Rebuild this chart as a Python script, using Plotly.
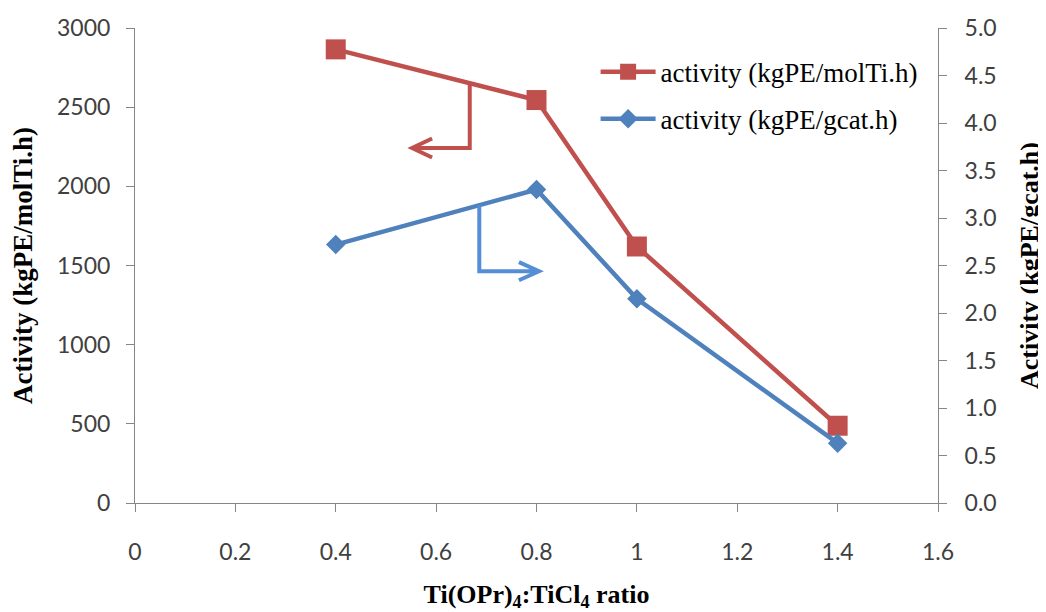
import plotly.graph_objects as go

# ---- data ----
ratio = [0.4, 0.8, 1.0, 1.4]
act_molTi = [2865, 2545, 1620, 488]     # left axis
act_gcat = [2.72, 3.30, 2.15, 0.63]     # right axis
name_molTi = "activity (kgPE/molTi.h)"
name_gcat = "activity (kgPE/gcat.h)"

x_ticks = [0, 0.2, 0.4, 0.6, 0.8, 1.0, 1.2, 1.4, 1.6]
x_ticktext = ["0", "0.2", "0.4", "0.6", "0.8", "1", "1.2", "1.4", "1.6"]

# arrow annotations: x of drop, y of horizontal leg, x of tip
red_arrow = dict(x=0.667, y=2242, tip=0.552, head_dx=0.040, head_dy=60)
blue_arrow = dict(x=0.686, y=2.44, tip=0.805, head_dx=0.040, head_dy=0.095)

RED = "#C0504D"
BLUE = "#4F81BD"
BLUE_ARROW = "#558ED5"
AXIS = "#868686"
TICK = "#404040"
TICKFONT = dict(family="Lato, Open Sans, sans-serif", size=23, color=TICK)
SERIF = "Liberation Serif, Times New Roman, serif"


def interp(xs, ys, x):
    for i in range(len(xs) - 1):
        if xs[i] <= x <= xs[i + 1]:
            t = (x - xs[i]) / (xs[i + 1] - xs[i])
            return ys[i] + t * (ys[i + 1] - ys[i])
    return ys[-1]


fig = go.Figure()
fig.add_trace(go.Scatter(
    x=ratio, y=act_molTi, name=name_molTi, mode="lines+markers",
    line=dict(color=RED, width=4.5),
    marker=dict(symbol="square", size=20, color=RED),
    legend="legend",
))
fig.add_trace(go.Scatter(
    x=ratio, y=act_gcat, name=name_gcat, mode="lines+markers", yaxis="y2",
    line=dict(color=BLUE, width=4.5),
    marker=dict(symbol="diamond", size=15, color=BLUE),
    legend="legend2",
))

shapes = []
for arr, xs, ys, yref, col in [
    (red_arrow, ratio, act_molTi, "y", RED),
    (blue_arrow, ratio, act_gcat, "y2", BLUE_ARROW),
]:
    y0 = interp(xs, ys, arr["x"])
    sgn = 1 if arr["tip"] > arr["x"] else -1
    hx = arr["tip"] - sgn * arr["head_dx"]
    path = (f"M{arr['x']},{y0} L{arr['x']},{arr['y']} L{arr['tip']},{arr['y']} "
            f"M{hx},{arr['y'] + arr['head_dy']} L{arr['tip']},{arr['y']} "
            f"L{hx},{arr['y'] - arr['head_dy']}")
    shapes.append(dict(type="path", path=path, xref="x", yref=yref,
                       line=dict(color=col, width=4)))

fig.update_layout(
    width=1038, height=604,
    margin=dict(l=127, r=108, t=20, b=109, autoexpand=False),
    plot_bgcolor="white", paper_bgcolor="white",
    shapes=shapes,
    xaxis=dict(
        range=[0, 1.6], tickvals=x_ticks, ticktext=x_ticktext, automargin=False,
        showgrid=False, zeroline=False, showline=True, linecolor=AXIS, linewidth=1,
        ticks="outside", ticklen=8, tickcolor=AXIS, tickfont=TICKFONT,
        ticklabelstandoff=20,
        title=dict(text="<b>Ti(OPr)<sub>4</sub>:TiCl<sub>4</sub> ratio</b>",
                   font=dict(family=SERIF, size=26, color="black"), standoff=31),
    ),
    yaxis=dict(
        range=[0, 3000], dtick=500, automargin=False,
        showgrid=False, zeroline=False, showline=True, linecolor=AXIS, linewidth=1,
        ticks="outside", ticklen=8, tickcolor=AXIS, tickfont=TICKFONT,
        ticklabelstandoff=11,
        title=dict(text="<b>Activity (kgPE/molTi.h)</b>",
                   font=dict(family=SERIF, size=27, color="black"), standoff=18),
    ),
    yaxis2=dict(
        range=[0, 5], dtick=0.5, tickformat=".1f", overlaying="y", side="right",
        automargin=False,
        showgrid=False, zeroline=False, showline=True, linecolor=AXIS, linewidth=1,
        ticks="outside", ticklen=8, tickcolor=AXIS, tickfont=TICKFONT,
        ticklabelstandoff=13,
        title=dict(text="<b>Activity (kgPE/gcat.h)</b>",
                   font=dict(family=SERIF, size=26, color="black"), standoff=24),
    ),
    legend=dict(x=0.5736, y=0.907, xanchor="left", yanchor="middle",
                font=dict(family=SERIF, size=27, color="black"),
                itemwidth=55, bgcolor="rgba(0,0,0,0)"),
    legend2=dict(x=0.5736, y=0.808, xanchor="left", yanchor="middle",
                 font=dict(family=SERIF, size=27, color="black"),
                 itemwidth=55, bgcolor="rgba(0,0,0,0)"),
    showlegend=True,
)

fig.write_html("out.html")
